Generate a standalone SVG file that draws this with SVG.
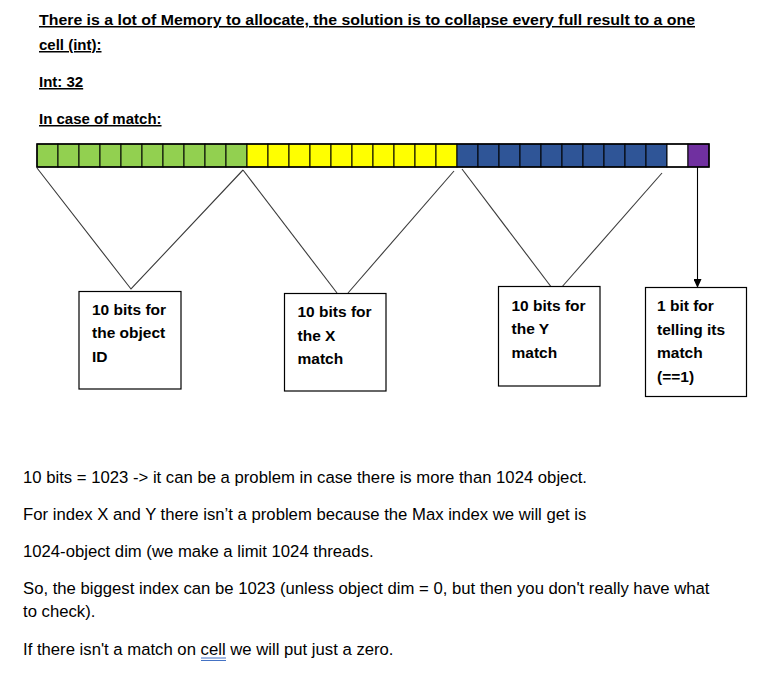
<svg xmlns="http://www.w3.org/2000/svg" width="769" height="690" viewBox="0 0 769 690">
<defs>
<style>
.h{font-family:"Liberation Sans",Arial,sans-serif;font-weight:bold;font-size:15px;fill:#000;text-decoration:underline}
.b{font-family:"Liberation Sans",Arial,sans-serif;font-weight:bold;font-size:15.5px;fill:#000}
.t{font-family:"Liberation Sans",Arial,sans-serif;font-size:16.7px;fill:#000}
.box{fill:#fff;stroke:#000;stroke-width:1.2}
.cell{stroke:#000;stroke-width:1}
.g{fill:#92D050}.y{fill:#FFFF00}.bl{fill:#2F5597}.w{fill:#fff}.p{fill:#7030A0}
.con{fill:none;stroke:#3a3a3a;stroke-width:1.1}
</style>
<marker id="ah" markerWidth="10" markerHeight="8" refX="9" refY="4" orient="auto" markerUnits="userSpaceOnUse">
<path d="M0,0 L9,4 L0,8 Z" fill="#000"/>
</marker>
</defs>
<rect width="769" height="690" fill="#fff"/>
<g id="header">
<text class="h" x="39" y="25" textLength="656" lengthAdjust="spacingAndGlyphs">There is a lot of Memory to allocate, the solution is to collapse every full result to a one</text>
<text class="h" x="39" y="50">cell (int):</text>
<text class="h" x="39" y="87">Int: 32</text>
<text class="h" x="39" y="124">In case of match:</text>
</g>
<g id="int-bar">
<rect class="cell g" x="37" y="144" width="21" height="23"/>
<rect class="cell g" x="58" y="144" width="21" height="23"/>
<rect class="cell g" x="79" y="144" width="21" height="23"/>
<rect class="cell g" x="100" y="144" width="21" height="23"/>
<rect class="cell g" x="121" y="144" width="21" height="23"/>
<rect class="cell g" x="142" y="144" width="21" height="23"/>
<rect class="cell g" x="163" y="144" width="21" height="23"/>
<rect class="cell g" x="184" y="144" width="21" height="23"/>
<rect class="cell g" x="205" y="144" width="21" height="23"/>
<rect class="cell g" x="226" y="144" width="21" height="23"/>
<rect class="cell y" x="247" y="144" width="21" height="23"/>
<rect class="cell y" x="268" y="144" width="21" height="23"/>
<rect class="cell y" x="289" y="144" width="21" height="23"/>
<rect class="cell y" x="310" y="144" width="21" height="23"/>
<rect class="cell y" x="331" y="144" width="21" height="23"/>
<rect class="cell y" x="352" y="144" width="21" height="23"/>
<rect class="cell y" x="373" y="144" width="21" height="23"/>
<rect class="cell y" x="394" y="144" width="21" height="23"/>
<rect class="cell y" x="415" y="144" width="21" height="23"/>
<rect class="cell y" x="436" y="144" width="21" height="23"/>
<rect class="cell bl" x="457" y="144" width="21" height="23"/>
<rect class="cell bl" x="478" y="144" width="21" height="23"/>
<rect class="cell bl" x="499" y="144" width="21" height="23"/>
<rect class="cell bl" x="520" y="144" width="21" height="23"/>
<rect class="cell bl" x="541" y="144" width="21" height="23"/>
<rect class="cell bl" x="562" y="144" width="21" height="23"/>
<rect class="cell bl" x="583" y="144" width="21" height="23"/>
<rect class="cell bl" x="604" y="144" width="21" height="23"/>
<rect class="cell bl" x="625" y="144" width="21" height="23"/>
<rect class="cell bl" x="646" y="144" width="21" height="23"/>
<rect class="cell w" x="667" y="144" width="21" height="23"/>
<rect class="cell p" x="688" y="144" width="21" height="23"/>
<rect x="37" y="144" width="672" height="23" fill="none" stroke="#000" stroke-width="1.5"/>
</g>
<g id="connectors">
<polyline class="con" points="37,168 131,289 243,170"/>
<line class="con" x1="243" y1="170" x2="337" y2="293"/>
<line class="con" x1="348" y1="293" x2="454" y2="171"/>
<line class="con" x1="462" y1="169" x2="552" y2="288"/>
<line class="con" x1="561" y1="288" x2="662" y2="173"/>
<line x1="697.5" y1="167" x2="697.5" y2="288" stroke="#000" stroke-width="1.1" marker-end="url(#ah)"/>
</g>
<g id="box-object-id">
<rect class="box" x="79" y="291.5" width="102" height="97.5"/>
<text class="b" x="92" y="315">10 bits for</text>
<text class="b" x="92" y="338">the object</text>
<text class="b" x="92" y="361.5">ID</text>
</g>
<g id="box-x-match">
<rect class="box" x="284.5" y="293.5" width="101.5" height="97.5"/>
<text class="b" x="297.5" y="317">10 bits for</text>
<text class="b" x="297.5" y="340.5">the X</text>
<text class="b" x="297.5" y="363.5">match</text>
</g>
<g id="box-y-match">
<rect class="box" x="498.5" y="286.5" width="101.5" height="99.5"/>
<text class="b" x="511.5" y="311">10 bits for</text>
<text class="b" x="511.5" y="334">the Y</text>
<text class="b" x="511.5" y="358">match</text>
</g>
<g id="box-match-bit">
<rect class="box" x="645.5" y="287.5" width="101" height="109"/>
<text class="b" x="657" y="311">1 bit for</text>
<text class="b" x="657" y="335">telling its</text>
<text class="b" x="657" y="358">match</text>
<text class="b" x="657" y="381.5">(==1)</text>
</g>
<g id="notes">
<text class="t" x="23" y="483">10 bits = 1023 -&gt; it can be a problem in case there is more than 1024 object.</text>
<text class="t" x="23" y="520">For index X and Y there isn’t a problem because the Max index we will get is</text>
<text class="t" x="23" y="557">1024-object dim (we make a limit 1024 threads.</text>
<text class="t" x="23" y="594">So, the biggest index can be 1023 (unless object dim = 0, but then you don't really have what</text>
<text class="t" x="23" y="617">to check).</text>
<text class="t" x="23" y="655">If there isn't a match on cell we will put just a zero.</text>
<line x1="201" y1="658" x2="226" y2="658" stroke="#4472C4" stroke-width="1"/>
<line x1="201" y1="660.5" x2="226" y2="660.5" stroke="#4472C4" stroke-width="1"/>
</g>
</svg>
